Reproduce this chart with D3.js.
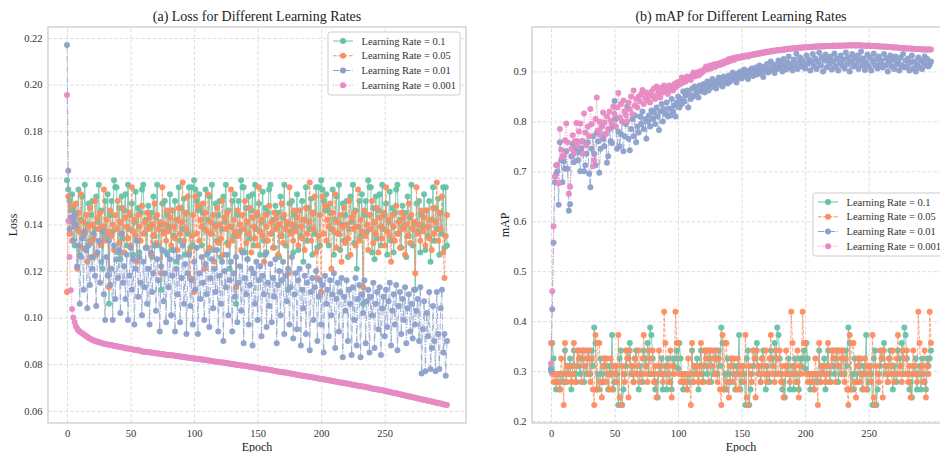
<!DOCTYPE html>
<html>
<head>
<meta charset="utf-8">
<script src="https://cdn.jsdelivr.net/npm/d3@7"></script>
<style>
  body { margin: 0; background: #fff; }
  svg { display: block; font-family: "Liberation Serif", "Times New Roman", serif; }
</style>
</head>
<body>
<svg id="chart" width="940" height="452"></svg>
<script>
// ------- Data (epoch = array index) -------

const lossLr01 = [
  .159,.155,.150,.146,.153,.147,.131,.145,.138,.155,.127,.142,.152,.136,.157,.129,.140,.149,.133,.144,
  .150,.126,.138,.152,.141,.157,.132,.146,.121,.139,.150,.135,.153,.106,.144,.150,.137,.159,.156,.156,
  .128,.147,.125,.152,.134,.146,.153,.131,.157,.138,.144,.149,.127,.141,.154,.133,.147,.128,.145,.155,
  .157,.136,.142,.130,.148,.139,.145,.126,.152,.135,.143,.157,.131,.140,.112,.149,.137,.150,.128,.144,
  .139,.153,.129,.146,.135,.150,.124,.142,.156,.133,.147,.138,.151,.127,.145,.136,.156,.130,.156,.131,
  .159,.155,.150,.146,.153,.147,.131,.145,.138,.155,.127,.142,.152,.136,.157,.129,.140,.149,.133,.144,
  .150,.126,.138,.152,.141,.157,.132,.146,.121,.139,.150,.135,.153,.106,.144,.150,.137,.159,.156,.156,
  .128,.147,.125,.152,.134,.146,.153,.131,.157,.138,.144,.149,.127,.141,.154,.133,.147,.128,.145,.155,
  .157,.136,.142,.130,.148,.139,.145,.126,.152,.135,.143,.157,.131,.140,.112,.149,.137,.150,.128,.144,
  .139,.153,.129,.146,.135,.150,.124,.142,.156,.133,.147,.138,.151,.127,.145,.136,.156,.130,.156,.131,
  .159,.155,.150,.146,.153,.147,.131,.145,.138,.155,.127,.142,.152,.136,.157,.129,.140,.149,.133,.144,
  .150,.126,.138,.152,.141,.157,.132,.146,.121,.139,.150,.135,.153,.106,.144,.150,.137,.159,.156,.156,
  .128,.147,.125,.152,.134,.146,.153,.131,.157,.138,.144,.149,.127,.141,.154,.133,.147,.128,.145,.155,
  .157,.136,.142,.130,.148,.139,.145,.126,.152,.135,.143,.157,.131,.140,.112,.149,.137,.150,.128,.144,
  .139,.153,.129,.146,.135,.150,.124,.142,.156,.133,.147,.138,.151,.127,.145,.136,.156,.130,.156,.131
];

const lossLr005 = [
  .111,.152,.136,.148,.133,.142,.139,.149,.121,.145,.137,.153,.130,.141,.136,.144,.124,.139,.147,.132,
  .140,.134,.150,.127,.143,.138,.145,.131,.139,.155,.133,.142,.137,.113,.146,.135,.140,.129,.144,.138,
  .150,.132,.141,.136,.147,.128,.143,.139,.134,.145,.131,.156,.137,.142,.135,.124,.144,.139,.133,.148,
  .136,.141,.130,.145,.138,.143,.127,.140,.135,.149,.132,.144,.138,.141,.119,.156,.136,.140,.133,.146,
  .137,.143,.131,.146,.139,.134,.142,.129,.147,.136,.141,.158,.133,.145,.138,.152,.128,.117,.135,.144,
  .111,.152,.136,.148,.133,.142,.139,.149,.121,.145,.137,.153,.130,.141,.136,.144,.124,.139,.147,.132,
  .140,.134,.150,.127,.143,.138,.145,.131,.139,.155,.133,.142,.137,.113,.146,.135,.140,.129,.144,.138,
  .150,.132,.141,.136,.147,.128,.143,.139,.134,.145,.131,.156,.137,.142,.135,.124,.144,.139,.133,.148,
  .136,.141,.130,.145,.138,.143,.127,.140,.135,.149,.132,.144,.138,.141,.119,.156,.136,.140,.133,.146,
  .137,.143,.131,.146,.139,.134,.142,.129,.147,.136,.141,.158,.133,.145,.138,.152,.128,.117,.135,.144,
  .111,.152,.136,.148,.133,.142,.139,.149,.121,.145,.137,.153,.130,.141,.136,.144,.124,.139,.147,.132,
  .140,.134,.150,.127,.143,.138,.145,.131,.139,.155,.133,.142,.137,.113,.146,.135,.140,.129,.144,.138,
  .150,.132,.141,.136,.147,.128,.143,.139,.134,.145,.131,.156,.137,.142,.135,.124,.144,.139,.133,.148,
  .136,.141,.130,.145,.138,.143,.127,.140,.135,.149,.132,.144,.138,.141,.119,.156,.136,.140,.133,.146,
  .137,.143,.131,.146,.139,.134,.142,.129,.147,.136,.141,.158,.133,.145,.138,.152,.128,.117,.135,.144
];

const lossLr001 = [
  .217,.163,.138,.143,.141,.133,.144,.140,.122,.131,.106,.126,.134,.112,.137,.129,.104,.131,.114,.126,
  .121,.136,.118,.105,.128,.133,.115,.124,.137,.110,.099,.126,.118,.133,.114,.121,.099,.131,.108,.125,
  .117,.129,.102,.136,.115,.122,.108,.127,.099,.118,.130,.112,.125,.097,.121,.133,.109,.126,.115,.101,
  .124,.113,.130,.106,.121,.097,.128,.111,.119,.131,.103,.125,.116,.094,.122,.129,.107,.119,.098,.127,
  .113,.125,.101,.118,.129,.094,.121,.110,.126,.098,.117,.131,.106,.123,.093,.119,.127,.105,.116,.097,
  .124,.112,.130,.093,.119,.108,.126,.115,.099,.123,.110,.128,.096,.117,.125,.104,.121,.111,.129,.094,
  .118,.106,.124,.090,.120,.113,.127,.101,.116,.124,.094,.119,.109,.126,.098,.115,.122,.103,.128,.089,
  .117,.110,.125,.097,.114,.121,.088,.119,.106,.124,.099,.116,.122,.092,.118,.110,.127,.096,.115,.105,
  .123,.098,.117,.109,.125,.089,.114,.120,.101,.116,.124,.093,.118,.107,.121,.097,.113,.126,.091,.110,
  .119,.095,.116,.121,.088,.112,.104,.118,.093,.115,.122,.086,.111,.117,.099,.113,.120,.090,.109,.116,
  .097,.114,.085,.118,.106,.112,.092,.116,.101,.110,.119,.087,.108,.115,.094,.111,.117,.083,.109,.103,
  .116,.090,.112,.106,.084,.113,.099,.117,.088,.108,.114,.083,.110,.102,.116,.089,.107,.112,.085,.109,
  .101,.115,.087,.106,.111,.095,.113,.084,.104,.109,.092,.112,.096,.107,.115,.088,.103,.110,.097,.114,
  .086,.105,.111,.093,.108,.099,.113,.089,.104,.110,.094,.106,.091,.112,.097,.103,.108,.090,.113,.076,
  .095,.107,.077,.102,.092,.111,.078,.087,.105,.090,.077,.111,.093,.078,.104,.112,.085,.093,.075,.090
];

const lossLr0001 = [
  .1955,.1415,.1260,.1118,.1037,.1000,.0980,.0963,.0952,.0945,.0940,.0936,.0933,.0929,.0925,.0921,.0917,.0914,.0910,.0907,
  .0904,.0903,.0900,.0898,.0897,.0894,.0893,.0891,.0890,.0888,.0887,.0886,.0885,.0884,.0883,.0882,.0880,.0879,.0878,.0877,
  .0876,.0875,.0874,.0873,.0872,.0871,.0869,.0868,.0867,.0866,.0865,.0864,.0863,.0862,.0861,.0860,.0862,.0858,.0857,.0855,
  .0854,.0853,.0853,.0852,.0851,.0851,.0850,.0849,.0849,.0848,.0847,.0846,.0846,.0845,.0844,.0843,.0843,.0842,.0841,.0840,
  .0840,.0839,.0838,.0838,.0837,.0836,.0835,.0835,.0834,.0833,.0832,.0832,.0831,.0830,.0829,.0829,.0828,.0827,.0826,.0826,
  .0825,.0824,.0824,.0823,.0822,.0821,.0820,.0820,.0819,.0818,.0817,.0816,.0816,.0815,.0814,.0813,.0812,.0811,.0811,.0810,
  .0809,.0808,.0807,.0807,.0806,.0805,.0804,.0803,.0803,.0802,.0801,.0800,.0799,.0798,.0798,.0797,.0796,.0795,.0794,.0793,
  .0793,.0792,.0791,.0790,.0789,.0789,.0788,.0787,.0786,.0785,.0784,.0783,.0782,.0781,.0780,.0779,.0778,.0778,.0777,.0776,
  .0775,.0774,.0773,.0772,.0771,.0770,.0769,.0768,.0767,.0766,.0766,.0765,.0764,.0763,.0762,.0761,.0760,.0759,.0758,.0757,
  .0756,.0755,.0754,.0753,.0752,.0751,.0750,.0749,.0748,.0747,.0746,.0746,.0745,.0744,.0743,.0742,.0741,.0740,.0739,.0738,
  .0737,.0736,.0735,.0734,.0733,.0732,.0731,.0730,.0729,.0728,.0727,.0726,.0725,.0724,.0723,.0722,.0721,.0720,.0719,.0718,
  .0717,.0716,.0715,.0714,.0713,.0712,.0711,.0710,.0709,.0708,.0707,.0706,.0705,.0704,.0703,.0702,.0701,.0700,.0699,.0697,
  .0696,.0695,.0694,.0693,.0692,.0691,.0690,.0689,.0688,.0687,.0686,.0685,.0683,.0682,.0681,.0680,.0678,.0677,.0676,.0675,
  .0673,.0672,.0671,.0670,.0668,.0667,.0666,.0665,.0663,.0662,.0661,.0660,.0658,.0657,.0656,.0655,.0653,.0652,.0651,.0650,
  .0648,.0647,.0646,.0645,.0643,.0642,.0641,.0640,.0638,.0637,.0636,.0635,.0633,.0632,.0631,.0630,.0628,.0627,.0626,.0625
];

const mapLr01 = [
  .305,.356,.325,.294,.263,.278,.294,.263,.294,.278,.294,.341,.278,.310,.294,.325,.263,.310,.341,.294,
  .278,.341,.310,.294,.325,.341,.278,.310,.294,.341,.325,.294,.341,.310,.387,.356,.263,.294,.263,.325,
  .294,.278,.325,.310,.294,.263,.310,.294,.372,.263,.278,.310,.294,.232,.325,.341,.232,.263,.294,.310,
  .341,.325,.356,.294,.310,.278,.325,.341,.294,.263,.310,.294,.278,.341,.325,.310,.356,.294,.387,.372,
  .325,.294,.263,.278,.247,.310,.294,.325,.263,.294,.310,.263,.325,.294,.278,.263,.325,.310,.325,.341,
  .305,.356,.325,.294,.263,.278,.294,.263,.294,.278,.294,.341,.278,.310,.294,.325,.263,.310,.341,.294,
  .278,.341,.310,.294,.325,.341,.278,.310,.294,.341,.325,.294,.341,.310,.387,.356,.263,.294,.263,.325,
  .294,.278,.325,.310,.294,.263,.310,.294,.372,.263,.278,.310,.294,.232,.325,.341,.232,.263,.294,.310,
  .341,.325,.356,.294,.310,.278,.325,.341,.294,.263,.310,.294,.278,.341,.325,.310,.356,.294,.387,.372,
  .325,.294,.263,.278,.247,.310,.294,.325,.263,.294,.310,.263,.325,.294,.278,.263,.325,.310,.325,.341,
  .305,.356,.325,.294,.263,.278,.294,.263,.294,.278,.294,.341,.278,.310,.294,.325,.263,.310,.341,.294,
  .278,.341,.310,.294,.325,.341,.278,.310,.294,.341,.325,.294,.341,.310,.387,.356,.263,.294,.263,.325,
  .294,.278,.325,.310,.294,.263,.310,.294,.372,.263,.278,.310,.294,.232,.325,.341,.232,.263,.294,.310,
  .341,.325,.356,.294,.310,.278,.325,.341,.294,.263,.310,.294,.278,.341,.325,.310,.356,.294,.387,.372,
  .325,.294,.263,.278,.247,.310,.294,.325,.263,.294,.310,.263,.325,.294,.278,.263,.325,.310,.325,.341
];

const mapLr005 = [
  .356,.294,.278,.294,.278,.294,.278,.263,.325,.294,.232,.356,.278,.310,.294,.310,.278,.294,.356,.278,
  .310,.341,.325,.341,.278,.341,.310,.341,.325,.294,.341,.278,.325,.263,.232,.372,.263,.356,.356,.278,
  .247,.310,.325,.278,.325,.294,.263,.325,.263,.310,.294,.310,.278,.372,.247,.232,.310,.294,.278,.341,
  .325,.247,.341,.310,.294,.278,.325,.294,.310,.341,.278,.294,.325,.372,.294,.310,.278,.341,.325,.294,
  .341,.278,.310,.247,.294,.341,.310,.294,.278,.419,.356,.294,.310,.278,.341,.247,.310,.294,.419,.356,
  .356,.294,.278,.294,.278,.294,.278,.263,.325,.294,.232,.356,.278,.310,.294,.310,.278,.294,.356,.278,
  .310,.341,.325,.341,.278,.341,.310,.341,.325,.294,.341,.278,.325,.263,.232,.372,.263,.356,.356,.278,
  .247,.310,.325,.278,.325,.294,.263,.325,.263,.310,.294,.310,.278,.372,.247,.232,.310,.294,.278,.341,
  .325,.247,.341,.310,.294,.278,.325,.294,.310,.341,.278,.294,.325,.372,.294,.310,.278,.341,.325,.294,
  .341,.278,.310,.247,.294,.341,.310,.294,.278,.419,.356,.294,.310,.278,.341,.247,.310,.294,.419,.356,
  .356,.294,.278,.294,.278,.294,.278,.263,.325,.294,.232,.356,.278,.310,.294,.310,.278,.294,.356,.278,
  .310,.341,.325,.341,.278,.341,.310,.341,.325,.294,.341,.278,.325,.263,.232,.372,.263,.356,.356,.278,
  .247,.310,.325,.278,.325,.294,.263,.325,.263,.310,.294,.310,.278,.372,.247,.232,.310,.294,.278,.341,
  .325,.247,.341,.310,.294,.278,.325,.294,.310,.341,.278,.294,.325,.372,.294,.310,.278,.341,.325,.294,
  .341,.278,.310,.247,.294,.341,.310,.294,.278,.419,.356,.294,.310,.278,.341,.247,.310,.294,.419,.356
];

const mapLr001 = [
  .300,.424,.557,.678,.695,.700,.633,.758,.722,.678,.720,.705,.740,.705,.621,.634,.730,.755,.718,.745,
  .760,.722,.738,.700,.745,.760,.700,.712,.735,.758,.695,.668,.745,.770,.735,.712,.778,.760,.697,.745,
  .790,.765,.750,.775,.717,.730,.785,.760,.756,.790,.841,.805,.745,.780,.750,.775,.800,.740,.770,.795,
  .830,.765,.742,.785,.805,.770,.812,.758,.790,.778,.810,.795,.820,.785,.805,.765,.800,.812,.790,.822,
  .805,.818,.795,.828,.810,.783,.820,.835,.800,.825,.815,.838,.810,.826,.812,.845,.820,.832,.810,.838,
  .850,.828,.845,.835,.860,.840,.852,.862,.828,.855,.845,.866,.850,.870,.855,.862,.848,.872,.860,.866,
  .875,.858,.870,.880,.862,.876,.868,.885,.872,.880,.866,.878,.888,.874,.884,.870,.890,.878,.886,.876,
  .892,.880,.888,.898,.884,.893,.878,.896,.888,.900,.886,.894,.904,.890,.898,.885,.902,.894,.906,.891,
  .900,.908,.894,.903,.912,.896,.905,.889,.910,.900,.915,.898,.906,.920,.902,.911,.897,.914,.905,.922,
  .908,.916,.900,.925,.910,.904,.918,.930,.908,.915,.902,.924,.912,.936,.905,.918,.928,.910,.922,.914,
  .906,.932,.915,.924,.902,.918,.935,.910,.926,.905,.920,.938,.912,.928,.900,.922,.934,.908,.925,.915,
  .930,.904,.920,.936,.910,.926,.902,.918,.932,.912,.924,.906,.938,.915,.928,.900,.920,.935,.910,.926,
  .914,.932,.905,.922,.940,.912,.926,.903,.918,.934,.910,.928,.902,.920,.936,.912,.925,.906,.930,.915,
  .922,.908,.935,.912,.926,.900,.918,.932,.910,.924,.905,.930,.914,.920,.902,.928,.912,.935,.908,.922,
  .910,.926,.902,.918,.932,.906,.920,.900,.914,.928,.908,.922,.905,.918,.930,.912,.925,.910,.914,.920
];

const mapLr0001 = [
  .315,.460,.590,.689,.712,.713,.676,.785,.743,.728,.732,.762,.796,.758,.655,.669,.745,.772,.735,.760,
  .797,.752,.780,.796,.760,.735,.816,.778,.752,.790,.770,.825,.795,.710,.722,.805,.848,.782,.800,.772,
  .790,.818,.798,.775,.810,.785,.820,.802,.795,.830,.815,.790,.828,.857,.808,.835,.800,.842,.820,.812,
  .800,.838,.825,.850,.815,.862,.832,.845,.828,.850,.840,.855,.863,.835,.848,.858,.842,.852,.838,.860,
  .850,.866,.845,.870,.855,.862,.848,.868,.858,.872,.860,.866,.855,.872,.864,.870,.862,.875,.868,.878,
  .872,.880,.875,.888,.878,.884,.880,.890,.885,.888,.883,.892,.898,.890,.894,.898,.892,.900,.896,.902,
  .900,.905,.910,.904,.908,.912,.906,.910,.914,.909,.915,.912,.916,.913,.918,.915,.920,.917,.922,.919,
  .925,.921,.924,.927,.923,.928,.926,.929,.927,.930,.928,.931,.929,.932,.932,.930,.933,.932,.934,.933,
  .935,.934,.936,.935,.937,.936,.938,.937,.939,.938,.940,.939,.940,.941,.940,.942,.941,.942,.943,.942,
  .943,.943,.944,.943,.945,.944,.945,.946,.945,.946,.946,.947,.946,.947,.947,.948,.947,.948,.948,.948,
  .948,.949,.948,.949,.949,.949,.950,.949,.950,.950,.950,.950,.951,.950,.951,.950,.951,.951,.951,.951,
  .951,.951,.952,.951,.951,.952,.951,.952,.952,.951,.952,.952,.952,.952,.952,.953,.952,.952,.953,.952,
  .952,.952,.953,.952,.952,.952,.952,.951,.952,.952,.951,.952,.951,.951,.951,.951,.950,.951,.950,.950,
  .950,.950,.950,.949,.950,.949,.949,.949,.949,.948,.948,.948,.948,.948,.947,.947,.947,.947,.947,.946,
  .946,.946,.946,.946,.946,.945,.945,.945,.945,.945,.945,.945,.944,.944,.944,.944,.944,.944,.944,.944
];

const seriesNames = ["Learning Rate = 0.1", "Learning Rate = 0.05", "Learning Rate = 0.01", "Learning Rate = 0.001"];
const epochTicks = [0, 50, 100, 150, 200, 250];
const lossTicks = [0.06, 0.08, 0.10, 0.12, 0.14, 0.16, 0.18, 0.20, 0.22];
const mapTicks = [0.2, 0.3, 0.4, 0.5, 0.6, 0.7, 0.8, 0.9];

// ------- Styles -------

const colors = ["#66c2a5", "#fc8d62", "#8da0cb", "#e78ac3"];
const dashes = [null, "3.7,1.6", "6.4,1.6,1,1.6", "1,1.65"];
const markerR = 3;

const svg = d3.select("#chart");

function drawPanel(cfg) {
  const { left, right, top, bottom } = cfg.box;
  const span = cfg.series[0].length - 1;

  // matplotlib-like 5% margins on both axes
  const x = d3.scaleLinear()
    .domain([-0.05 * span, span * 1.05])
    .range([left, right]);

  const [lo, hi] = d3.extent(cfg.series.flat());
  const pad = (hi - lo) * 0.05;
  const y = d3.scaleLinear()
    .domain([lo - pad, hi + pad])
    .range([bottom, top]);

  const g = svg.append("g");

  // grid
  g.append("g")
    .attr("transform", `translate(0,${bottom})`)
    .call(d3.axisBottom(x).tickValues(epochTicks).tickSize(-(bottom - top)).tickFormat(""))
    .call((s) => s.select(".domain").remove())
    .call((s) => s.selectAll("line").attr("stroke", "#dedede").attr("stroke-dasharray", "3.5,2"));

  g.append("g")
    .attr("transform", `translate(${left},0)`)
    .call(d3.axisLeft(y).tickValues(cfg.yTicks).tickSize(-(right - left)).tickFormat(""))
    .call((s) => s.select(".domain").remove())
    .call((s) => s.selectAll("line").attr("stroke", "#dedede").attr("stroke-dasharray", "3.5,2"));

  // spines
  g.append("rect")
    .attr("x", left).attr("y", top)
    .attr("width", right - left).attr("height", bottom - top)
    .attr("fill", "none").attr("stroke", "#cccccc").attr("stroke-width", 1.3);

  // tick labels
  g.append("g")
    .attr("transform", `translate(0,${bottom})`)
    .call(d3.axisBottom(x).tickValues(epochTicks).tickSize(0).tickPadding(7).tickFormat(d3.format("d")))
    .call((s) => s.select(".domain").remove())
    .call((s) => s.selectAll("text")
      .attr("fill", "#333").style("font-size", "10.5px")
      .style("font-family", "'Liberation Serif', serif"));

  g.append("g")
    .attr("transform", `translate(${left},0)`)
    .call(d3.axisLeft(y).tickValues(cfg.yTicks).tickSize(0).tickPadding(5.5).tickFormat(d3.format(cfg.yFormat)))
    .call((s) => s.select(".domain").remove())
    .call((s) => s.selectAll("text")
      .attr("fill", "#333").style("font-size", "10.5px")
      .style("font-family", "'Liberation Serif', serif"));

  // axis labels & title
  g.append("text")
    .attr("x", (left + right) / 2).attr("y", 450.5)
    .attr("text-anchor", "middle").attr("fill", "#222")
    .style("font-size", "12px").text("Epoch");

  g.append("text")
    .attr("transform", `translate(${cfg.yLabelX},${(top + bottom) / 2}) rotate(-90)`)
    .attr("text-anchor", "middle").attr("fill", "#222")
    .style("font-size", "12px").text(cfg.yLabel);

  g.append("text")
    .attr("x", (left + right) / 2).attr("y", top - 6)
    .attr("text-anchor", "middle").attr("fill", "#222")
    .style("font-size", "14px").text(cfg.title);

  // series
  const line = d3.line().x((d, i) => x(i)).y((d) => y(d));

  cfg.series.forEach((vals, k) => {
    const sg = g.append("g");
    sg.append("path")
      .datum(vals)
      .attr("d", line)
      .attr("fill", "none")
      .attr("stroke", colors[k])
      .attr("stroke-width", 1)
      .attr("stroke-opacity", 0.8)
      .attr("stroke-dasharray", dashes[k]);
    sg.selectAll("circle")
      .data(vals)
      .join("circle")
      .attr("cx", (d, i) => x(i))
      .attr("cy", (d) => y(d))
      .attr("r", markerR)
      .attr("fill", colors[k])
      .attr("fill-opacity", 0.95);
  });

  // legend
  const lg = g.append("g").attr("transform", `translate(${cfg.legend[0]},${cfg.legend[1]})`);
  lg.append("rect")
    .attr("width", 132).attr("height", 63).attr("rx", 2.5)
    .attr("fill", "#fff").attr("fill-opacity", 0.85)
    .attr("stroke", "#cccccc").attr("stroke-width", 1);

  seriesNames.forEach((name, k) => {
    const ly = 9 + k * 14.75;
    lg.append("line")
      .attr("x1", 5).attr("x2", 25).attr("y1", ly).attr("y2", ly)
      .attr("stroke", colors[k]).attr("stroke-width", 1)
      .attr("stroke-dasharray", dashes[k]);
    lg.append("circle")
      .attr("cx", 15).attr("cy", ly).attr("r", markerR).attr("fill", colors[k]);
    lg.append("text")
      .attr("x", 33.5).attr("y", ly + 3.6)
      .attr("fill", "#333").style("font-size", "10.5px")
      .text(name);
  });
}

drawPanel({
  box: { left: 48, right: 466, top: 27, bottom: 423 },
  series: [lossLr01, lossLr005, lossLr001, lossLr0001],
  yTicks: lossTicks,
  yFormat: ".2f",
  yLabel: "Loss",
  yLabelX: 17,
  title: "(a) Loss for Different Learning Rates",
  legend: [328, 32],
});

drawPanel({
  box: { left: 532, right: 950, top: 27, bottom: 423 },
  series: [mapLr01, mapLr005, mapLr001, mapLr0001],
  yTicks: mapTicks,
  yFormat: ".1f",
  yLabel: "mAP",
  yLabelX: 508.5,
  title: "(b) mAP for Different Learning Rates",
  legend: [813, 193],
});
</script>
</body>
</html>
